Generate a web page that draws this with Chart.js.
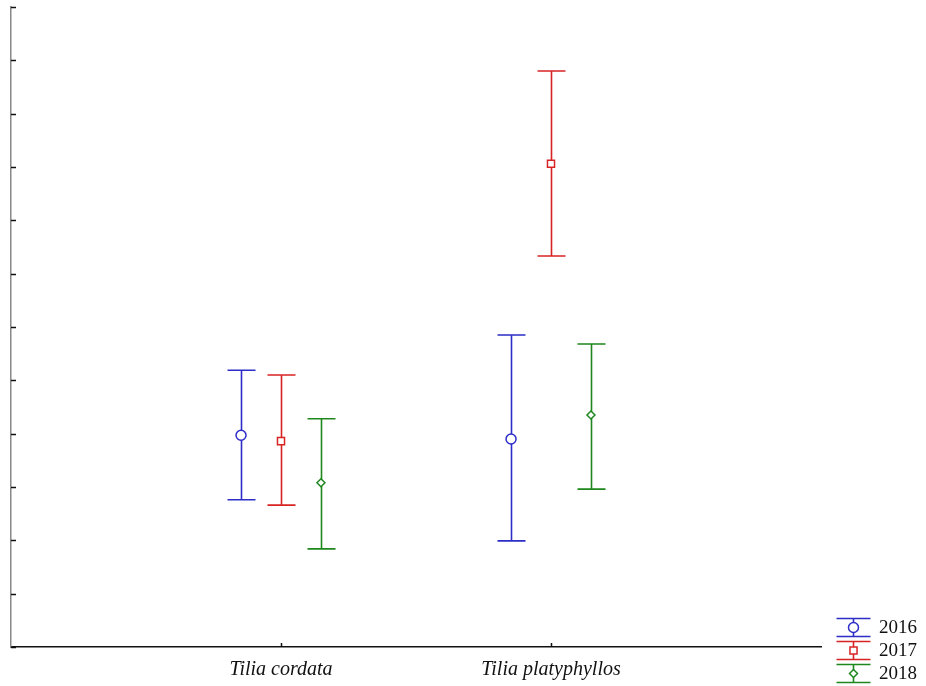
<!DOCTYPE html>
<html>
<head>
<meta charset="utf-8">
<script src="https://cdn.jsdelivr.net/npm/chart.js@4.4.0/dist/chart.umd.min.js"></script>
<style>
  body { margin: 0; background: #fff; }
  #wrap { width: 926px; height: 686px; }
</style>
</head>
<body>
<div id="wrap"><canvas id="chart" width="926" height="686"></canvas></div>
<script>
// data (y in axis units, 12 intervals)
var categories = ['Tilia cordata', 'Tilia platyphyllos'];
var years = ['2016', '2017', '2018'];

var mean2016 = [3.97, 3.90];
var low2016  = [2.76, 1.99];
var high2016 = [5.19, 5.85];

var mean2017 = [3.86, 9.06];
var low2017  = [2.66, 7.33];
var high2017 = [5.10, 10.80];

var mean2018 = [3.08, 4.35];
var low2018  = [1.84, 2.96];
var high2018 = [4.28, 5.68];

var yMin = 0, yMax = 12, yStep = 1;

var colors = ['rgb(45,45,200)', 'rgb(215,35,35)', 'rgb(30,135,30)'];
var shapes = ['circle', 'rect', 'rectRot'];
var radii = [5, 5, 4];
var offsets = [-0.148, 0, 0.148];

var means = [mean2016, mean2017, mean2018];
var lows = [low2016, low2017, low2018];
var highs = [high2016, high2017, high2018];

var datasets = years.map(function(y, i) {
  return {
    label: y,
    data: categories.map(function(c, j) { return {x: j + 1 + offsets[i], y: means[i][j]}; }),
    borderColor: colors[i],
    backgroundColor: '#fff',
    pointStyle: shapes[i],
    pointRadius: radii[i],
    pointBorderWidth: 1.5,
    showLine: false
  };
});

var errorBars = {
  id: 'errorBars',
  beforeDatasetsDraw: function(chart) {
    var ctx = chart.ctx, xs = chart.scales.x, ys = chart.scales.y;
    ctx.save();
    ctx.lineWidth = 1.6;
    years.forEach(function(y, i) {
      ctx.strokeStyle = colors[i];
      categories.forEach(function(c, j) {
        var px = Math.round(xs.getPixelForValue(j + 1 + offsets[i])) + 0.5;
        var top = ys.getPixelForValue(highs[i][j]);
        var bot = ys.getPixelForValue(lows[i][j]);
        ctx.beginPath();
        ctx.moveTo(px, top); ctx.lineTo(px, bot);
        ctx.moveTo(px - 14, top); ctx.lineTo(px + 14, top);
        ctx.moveTo(px - 14, bot); ctx.lineTo(px + 14, bot);
        ctx.stroke();
      });
    });
    ctx.restore();
  },
  afterDraw: function(chart) {
    var ctx = chart.ctx, xs = chart.scales.x, ys = chart.scales.y;
    var a = chart.chartArea;
    ctx.save();
    // inward tick marks
    ctx.strokeStyle = '#111';
    ctx.lineWidth = 1.5;
    ctx.beginPath();
    for (var v = yMin; v <= yMax; v += yStep) {
      var py = Math.round(ys.getPixelForValue(v)) + 0.5;
      ctx.moveTo(a.left, py); ctx.lineTo(a.left + 5, py);
    }
    categories.forEach(function(c, j) {
      var px = Math.round(xs.getPixelForValue(j + 1)) + 0.5;
      ctx.moveTo(px, a.bottom); ctx.lineTo(px, a.bottom - 4);
    });
    ctx.stroke();

    // legend, bottom right
    var lx = 853.5, ly = 627.5;
    ctx.font = '19px "Liberation Serif"';
    ctx.textBaseline = 'middle';
    years.forEach(function(y, i) {
      var cy = ly + i * 23;
      ctx.strokeStyle = colors[i];
      ctx.lineWidth = 1.6;
      ctx.beginPath();
      ctx.moveTo(lx - 17, cy - 9); ctx.lineTo(lx + 17, cy - 9);
      ctx.moveTo(lx - 17, cy + 9); ctx.lineTo(lx + 17, cy + 9);
      ctx.moveTo(lx, cy - 9); ctx.lineTo(lx, cy + 9);
      ctx.stroke();
      ctx.fillStyle = '#fff';
      ctx.lineWidth = 1.5;
      Chart.helpers.drawPoint(ctx, {pointStyle: shapes[i], radius: radii[i], borderWidth: 1.5}, lx, cy);
      ctx.fillStyle = '#111';
      ctx.fillText(y, 879, cy + 1);
    });
    ctx.restore();
  }
};

new Chart(document.getElementById('chart'), {
  type: 'scatter',
  data: { datasets: datasets },
  plugins: [errorBars],
  options: {
    responsive: false,
    animation: false,
    layout: { padding: { left: 11, top: 7, right: 105, bottom: 0 } },
    plugins: { legend: { display: false }, tooltip: { enabled: false } },
    scales: {
      x: {
        type: 'linear',
        min: 0, max: 3,
        afterBuildTicks: function(s) { s.ticks = categories.map(function(c, j) { return {value: j + 1}; }); },
        afterFit: function(s) { s.height = 39; },
        grid: { display: false, drawTicks: false },
        border: { display: true, color: '#111', width: 1.5 },
        ticks: {
          padding: 13,
          color: '#111',
          font: { family: '"Liberation Serif"', size: 20, style: 'italic', lineHeight: 1 },
          callback: function(v) { return categories[v - 1]; }
        }
      },
      y: {
        min: yMin, max: yMax,
        ticks: { display: false, stepSize: yStep },
        grid: { display: false, drawTicks: false },
        border: { display: true, color: '#888', width: 1.5 }
      }
    }
  }
});
</script>
</body>
</html>
